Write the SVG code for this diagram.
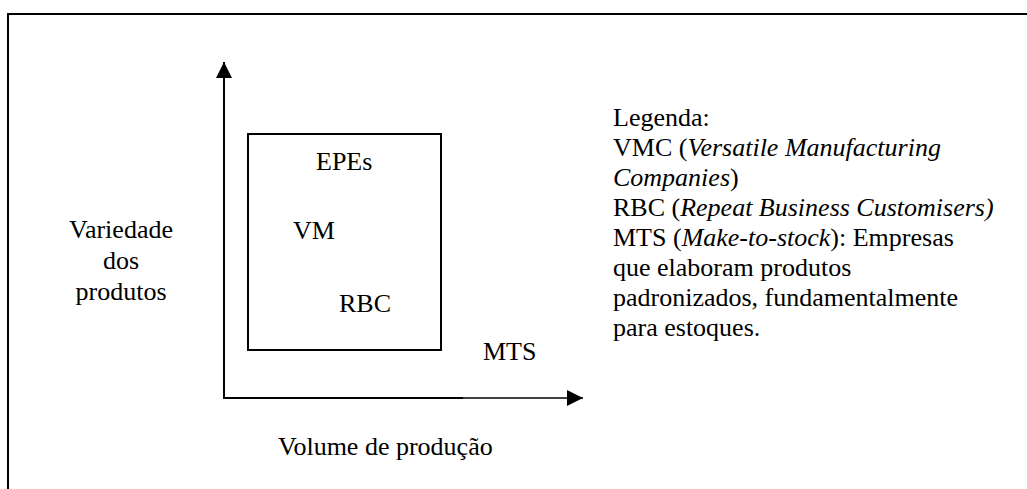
<svg xmlns="http://www.w3.org/2000/svg" width="1027" height="489" viewBox="0 0 1027 489">
<style>
text{font-family:"Liberation Serif","Times New Roman",serif;font-size:26px;fill:#000}
.i{font-style:italic}
.ln{stroke:#000;fill:none}
</style>
<defs>
<marker id="ah" viewBox="0 0 16 16" refX="16" refY="8" markerWidth="16" markerHeight="16" markerUnits="userSpaceOnUse" orient="auto">
<path d="M0,0 L16,8 L0,16 Z" fill="#000"/>
</marker>
</defs>
<rect width="1027" height="489" fill="#fff"/>
<g id="frame"><rect x="8" y="14" width="1040" height="500" class="ln" stroke-width="2"/></g>
<g id="connectors">
<line x1="224" y1="399" x2="224" y2="62" class="ln" stroke-width="2" marker-end="url(#ah)"/>
<line x1="223" y1="398" x2="463" y2="398" class="ln" stroke-width="2"/>
<line x1="463" y1="398" x2="583" y2="398" class="ln" stroke-width="1.3" marker-end="url(#ah)"/>
</g>
<g id="box"><rect x="248" y="134" width="193" height="216" class="ln" stroke-width="2"/></g>
<g id="epes"><text x="316" y="170">EPEs</text></g>
<g id="vm"><text x="293" y="239">VM</text></g>
<g id="rbc"><text x="339" y="312">RBC</text></g>
<g id="mts"><text x="483" y="360">MTS</text></g>
<g id="ylabel"><text x="121" y="238" text-anchor="middle">Variedade</text><text x="121" y="269" text-anchor="middle">dos</text><text x="121" y="300" text-anchor="middle">produtos</text></g>
<g id="xlabel"><text x="278" y="455">Volume de produção</text></g>
<g id="legend">
<text x="613" y="126">Legenda:</text>
<text x="613" y="156">VMC (<tspan class="i">Versatile Manufacturing</tspan></text>
<text x="613" y="186"><tspan class="i">Companies</tspan>)</text>
<text x="613" y="216">RBC (<tspan class="i">Repeat Business Customisers)</tspan></text>
<text x="613" y="246">MTS (<tspan class="i">Make-to-stock</tspan>): Empresas</text>
<text x="613" y="276">que elaboram produtos</text>
<text x="613" y="306">padronizados, fundamentalmente</text>
<text x="613" y="336">para estoques.</text>
</g>
</svg>
